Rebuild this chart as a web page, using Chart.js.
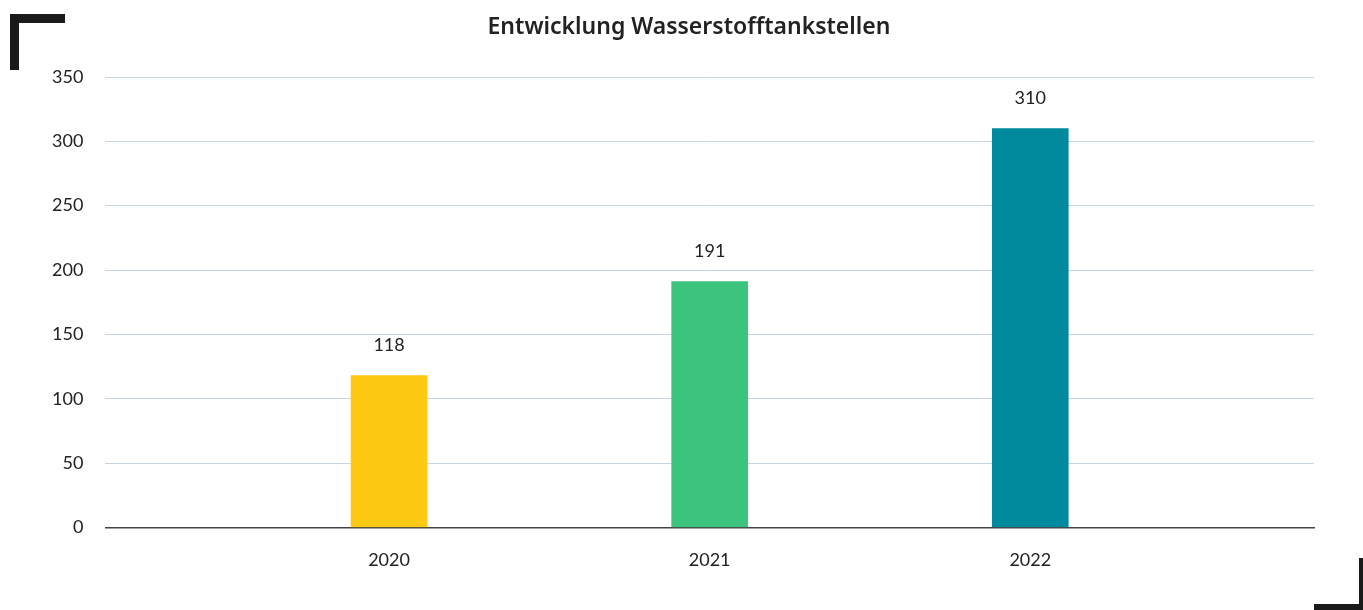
<!DOCTYPE html>
<html>
<head>
<meta charset="utf-8">
<script src="https://cdn.jsdelivr.net/npm/chart.js@4"></script>
<style>
  html, body { margin: 0; padding: 0; background: #fff; }
  #wrap { position: relative; width: 1363px; height: 610px; }
  .corner { position: absolute; background: #1a1a1a; }
</style>
</head>
<body>
<div id="wrap">
  <canvas id="h2Chart" width="1363" height="610"></canvas>
  <div class="corner" style="left:10px;top:14px;width:55px;height:9px;"></div>
  <div class="corner" style="left:10px;top:14px;width:9px;height:56px;"></div>
  <div class="corner" style="left:1359px;top:558px;width:4px;height:52px;"></div>
  <div class="corner" style="left:1314px;top:604px;width:49px;height:6px;"></div>
</div>
<script>
const chartTitle = 'Entwicklung Wasserstofftankstellen';
const years = ['2020', '2021', '2022'];
const stations = [118, 191, 310];
const barColors = ['#fdc913', '#3cc47f', '#008a9e'];
const yTicks = [0, 50, 100, 150, 200, 250, 300, 350];

// value above each bar + title (title sits a bit right of canvas centre)
const valueLabels = {
    id: 'valueLabels',
    afterDatasetsDraw(chart) {
        const ctx = chart.ctx;
        const meta = chart.getDatasetMeta(0);
        ctx.save();
        ctx.font = '18px Lato, "Noto Sans", sans-serif';
        ctx.fillStyle = '#222';
        ctx.textAlign = 'center';
        ctx.textBaseline = 'middle';
        meta.data.forEach((bar, i) => {
            ctx.fillText(stations[i], bar.x, bar.y - 30);
        });
        ctx.font = '600 23px "Noto Sans", Lato, sans-serif';
        ctx.fillText(chartTitle, 689, 27);
        ctx.restore();
    }
};

const ctx = document.getElementById('h2Chart').getContext('2d');
new Chart(ctx, {
    type: 'bar',
    data: {
        datasets: [{
            label: 'Wasserstofftankstellen',
            data: stations.map((v, i) => ({ x: i, y: v })),
            backgroundColor: barColors,
            borderWidth: 0,
            barThickness: 76
        }]
    },
    options: {
        responsive: false,
        animation: false,
        layout: { padding: { left: 30, right: 49, top: 77, bottom: 25 } },
        plugins: {
            legend: { display: false },
            tooltip: { enabled: false },
            title: { display: false }
        },
        scales: {
            x: {
                type: 'linear',
                offset: false,
                min: -0.885,
                max: 2.885,
                afterBuildTicks(axis) {
                    axis.ticks = years.map((y, i) => ({ value: i }));
                },
                grid: { display: false },
                border: { display: true, color: '#444', width: 1.5 },
                ticks: {
                    color: '#222',
                    font: { family: 'Lato, "Noto Sans", sans-serif', size: 18 },
                    padding: 14,
                    callback: v => years[v]
                }
            },
            y: {
                min: 0,
                max: 350,
                afterBuildTicks(axis) {
                    axis.ticks = yTicks.map(v => ({ value: v }));
                },
                grid: { color: '#c8d5de', lineWidth: 1, drawTicks: false },
                border: { display: false },
                ticks: {
                    color: '#222',
                    font: { family: 'Lato, "Noto Sans", sans-serif', size: 18 },
                    padding: 22
                }
            }
        }
    },
    plugins: [valueLabels]
});
</script>
</body>
</html>
